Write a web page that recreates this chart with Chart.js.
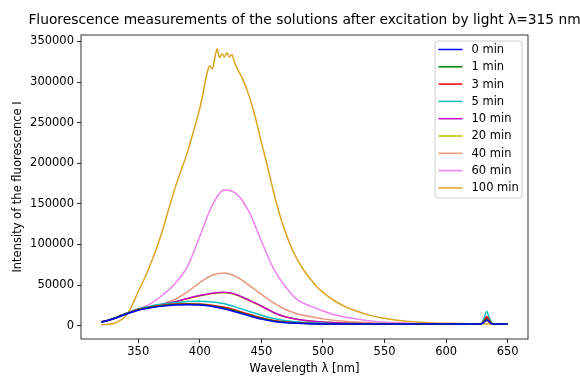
<!DOCTYPE html>
<html>
<head>
<meta charset="utf-8">
<script src="https://cdn.jsdelivr.net/npm/chart.js@4.4.1/dist/chart.umd.min.js"></script>
<style>
  body { margin: 0; background: #fff; }
  #wrap { width: 580px; height: 376px; }
</style>
</head>
<body>
<div id="wrap"><canvas id="fluoChart" width="580" height="376"></canvas></div>
<script>
// wavelengths (nm) shared by the 0..60 min series
const wavelengths = [320, 325, 330, 340, 350, 360, 370, 380, 390, 400, 410, 420, 430, 440, 450, 460, 470, 480, 490, 500,
  510, 520, 530, 540, 550, 560, 570, 580, 590, 600, 610, 620, 628, 631, 633, 635, 638, 645, 650];

const min0 = [4500, 6200, 8500, 14000, 19000, 22000, 24000, 25300, 25800, 25300, 23500, 20500, 16500, 12000, 8000, 5200, 3600, 2800, 2300, 2100,
  2000, 2000, 1900, 1900, 1900, 1900, 1900, 1900, 1900, 1900, 1900, 1900, 2000, 4500, 7000, 4500, 2000, 1900, 1900];
const min1 = [4600, 6300, 8700, 14300, 19400, 22500, 24600, 25900, 26400, 26000, 24300, 21500, 17600, 13000, 8800, 5800, 4000, 3000, 2400, 2200,
  2050, 2000, 1950, 1900, 1900, 1900, 1900, 1900, 1900, 1900, 1900, 1900, 2000, 5000, 8000, 5000, 2000, 1900, 1900];
const min3 = [4700, 6400, 8800, 14600, 19800, 23000, 25200, 26500, 27000, 26700, 25200, 22500, 18700, 14000, 9600, 6300, 4300, 3200, 2600, 2300,
  2100, 2000, 1950, 1950, 1950, 1950, 1950, 1950, 1950, 1950, 1950, 1950, 2000, 6500, 11000, 6500, 2000, 1950, 1950];
const min5 = [4800, 6600, 9000, 15000, 20500, 24000, 26500, 28500, 29800, 30000, 29200, 27000, 22500, 17500, 12800, 8800, 6000, 4400, 3400, 2800,
  2400, 2200, 2100, 2000, 2000, 2000, 2000, 2000, 2000, 2000, 2000, 2000, 2200, 10000, 17500, 10000, 2200, 2000, 2000];
const min10 = [4500, 6400, 8900, 15000, 19900, 23200, 26300, 29500, 33500, 37000, 40000, 41000, 38000, 31300, 24200, 16200, 10600, 7600, 5600, 4400,
  3600, 3000, 2600, 2300, 2100, 2000, 2000, 2000, 2000, 2000, 2000, 2000, 2000, 6000, 10500, 6000, 2000, 2000, 2000];
const min20 = [4500, 6400, 8900, 15000, 19800, 23000, 26000, 29000, 33000, 36500, 39500, 40500, 37500, 31000, 24000, 16000, 10500, 7500, 5500, 4400,
  3600, 3000, 2600, 2300, 2100, 2000, 2000, 2000, 2000, 2000, 2000, 2000, 2000, 5500, 9000, 5500, 2000, 2000, 2000];
const min40 = [4000, 6000, 8500, 14500, 19000, 22500, 27000, 32500, 41500, 53000, 62000, 64800, 60000, 49500, 38500, 28000, 19500, 14000, 11000, 8300,
  6400, 5000, 4000, 3300, 2800, 2500, 2300, 2200, 2100, 2000, 2000, 2000, 2000, 4000, 6000, 4000, 2000, 2000, 2000];
const min60 = [4000, 5800, 8000, 14000, 20500, 27000, 38000, 52000, 73000, 110000, 148000, 167000, 162000, 140000, 104000, 70000, 47000, 31000, 24000, 18000,
  13000, 10000, 7500, 5500, 4200, 3400, 2800, 2400, 2200, 2100, 2000, 2000, 2100, 6000, 10000, 6000, 2100, 2000, 2000];

// the 100 min series is sampled more finely around its noisy peak
const wavelengths100 = [320, 330, 335, 340, 345, 350, 355, 360, 365, 370, 375, 380, 385, 390, 395, 400, 403, 405, 408, 410,
  412, 413, 414, 416, 418, 420, 422, 424, 426, 428, 430, 435, 440, 445, 450, 455, 460, 465, 470, 475,
  480, 485, 490, 495, 500, 510, 520, 530, 540, 550, 560, 570, 580, 590, 600, 610, 620, 630, 640, 650];
const min100 = [1000, 2500, 6000, 12000, 25000, 42000, 58000, 76000, 96000, 119000, 145000, 170000, 192000, 214000, 240000, 268000, 289000, 305000, 320000, 316000,
  328000, 336000, 341000, 330000, 335000, 331000, 336000, 331000, 334000, 325000, 318000, 303000, 283000, 257000, 226000, 196000, 164000, 136000, 113000, 94000,
  79000, 67000, 57000, 48000, 41000, 30000, 22000, 16500, 12000, 9000, 6500, 5000, 4000, 3200, 2800, 2500, 2300, 2200, 2000, 2000];

const seriesNames = ['0 min', '1 min', '3 min', '5 min', '10 min', '20 min', '40 min', '60 min', '100 min'];
const seriesValues = [min0, min1, min3, min5, min10, min20, min40, min60, min100];
const seriesColors = ['#0000ff', '#008000', '#ff0000', '#00bfbf', '#bf00bf', '#bfbf00', '#e9967a', '#ee82ee', '#daa520'];

const xTicks = [350, 400, 450, 500, 550, 600, 650];
const yTicks = [0, 50000, 100000, 150000, 200000, 250000, 300000, 350000];

const chartTitle = 'Fluorescence measurements of the solutions after excitation by light λ=315 nm';

Chart.defaults.font.family = '"DejaVu Sans", sans-serif';
Chart.defaults.font.size = 11.5;
Chart.defaults.color = '#000';

const datasets = seriesNames.map((name, i) => {
  const xs = i === 8 ? wavelengths100 : wavelengths;
  return {
    label: name,
    data: seriesValues[i].map((v, j) => ({ x: xs[j], y: v })),
    borderColor: seriesColors[i],
    backgroundColor: seriesColors[i],
    borderWidth: 1.5,
    pointRadius: 0,
    fill: false,
    cubicInterpolationMode: 'monotone'
  };
});

// title centred over the axes, box around the axes, legend in the upper right
const framePlugin = {
  id: 'frame',
  afterDatasetsDraw(chart) {
    const { ctx, chartArea: a } = chart;
    ctx.save();
    ctx.strokeStyle = '#000';
    ctx.lineWidth = 0.8;
    ctx.strokeRect(a.left, a.top, a.right - a.left, a.bottom - a.top);

    ctx.fillStyle = '#000';
    ctx.font = '13.8px "DejaVu Sans", sans-serif';
    ctx.textAlign = 'center';
    ctx.textBaseline = 'middle';
    ctx.fillText(chartTitle, (a.left + a.right) / 2, 20);

    // legend
    const bx = 435, by = 41, bw = 87, bh = 157, r = 3;
    ctx.beginPath();
    ctx.moveTo(bx + r, by);
    ctx.arcTo(bx + bw, by, bx + bw, by + bh, r);
    ctx.arcTo(bx + bw, by + bh, bx, by + bh, r);
    ctx.arcTo(bx, by + bh, bx, by, r);
    ctx.arcTo(bx, by, bx + bw, by, r);
    ctx.closePath();
    ctx.fillStyle = 'rgba(255,255,255,0.8)';
    ctx.fill();
    ctx.strokeStyle = '#cccccc';
    ctx.lineWidth = 1;
    ctx.stroke();

    ctx.font = '11.5px "DejaVu Sans", sans-serif';
    ctx.textBaseline = 'middle';
    ctx.textAlign = 'left';
    chart.data.datasets.forEach((ds, i) => {
      const y = 49.5 + i * 17.3;
      ctx.strokeStyle = ds.borderColor;
      ctx.lineWidth = 1.5;
      ctx.beginPath();
      ctx.moveTo(438.5, y);
      ctx.lineTo(462.5, y);
      ctx.stroke();
      ctx.fillStyle = '#000';
      ctx.fillText(ds.label, 471.5, y + 0.5);
    });
    ctx.restore();
  }
};

new Chart(document.getElementById('fluoChart'), {
  type: 'line',
  data: { datasets },
  options: {
    responsive: false,
    animation: false,
    layout: { padding: { left: 0, right: 52, top: 35, bottom: 0 } },
    plugins: {
      legend: { display: false },
      tooltip: { enabled: false },
      title: { display: false }
    },
    scales: {
      x: {
        type: 'linear',
        min: 303.5,
        max: 666.5,
        afterFit(scale) { scale.height = 37; },
        afterBuildTicks(scale) { scale.ticks = xTicks.map(v => ({ value: v })); },
        ticks: { padding: 2, maxRotation: 0, autoSkip: false, callback: v => String(v) },
        grid: { drawOnChartArea: false, drawTicks: true, tickLength: 4, color: '#000', lineWidth: 0.8 },
        border: { display: false },
        title: { display: true, text: 'Wavelength λ [nm]', font: { size: 11.5 }, padding: { top: 0, bottom: 0 } }
      },
      y: {
        min: -16500,
        max: 358000,
        afterFit(scale) { scale.width = 81; },
        afterBuildTicks(scale) { scale.ticks = yTicks.map(v => ({ value: v })); },
        ticks: { padding: 3, autoSkip: false, callback: v => String(v) },
        grid: { drawOnChartArea: false, drawTicks: true, tickLength: 4, color: '#000', lineWidth: 0.8 },
        border: { display: false },
        title: { display: true, text: 'Intensity of the fluorescence I', font: { size: 11.5 }, padding: { top: 11, bottom: 0 } }
      }
    }
  },
  plugins: [framePlugin]
});
</script>
</body>
</html>
